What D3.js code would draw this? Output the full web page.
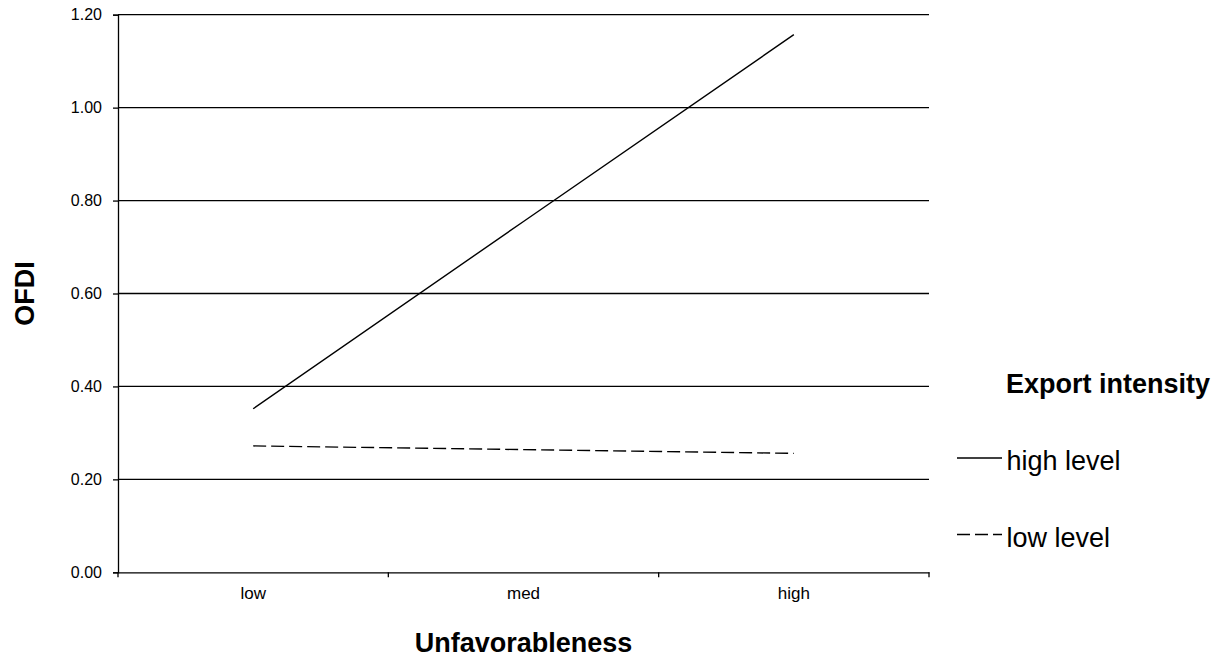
<!DOCTYPE html>
<html><head><meta charset="utf-8">
<script src="https://cdn.jsdelivr.net/npm/d3@7"></script>
<style>body{margin:0;background:#fff;}svg{display:block;font-family:"Liberation Sans",Arial,sans-serif;}</style>
</head><body>
<svg id="chart" width="1224" height="659"></svg>
<script>
const categories = ["low", "med", "high"];
const highLevel = [0.352, 0.755, 1.157];
const lowLevel = [0.272, 0.264, 0.256];
const yTicks = [0, 0.2, 0.4, 0.6, 0.8, 1.0, 1.2];
const seriesNames = ["high level", "low level"];

(function () {
const svg = d3.select("#chart");
const pL = 118, pR = 929, pT = 14.7, pB = 572.3;
const FONT = "Liberation Sans, Arial, sans-serif";

const x = d3.scaleBand().domain(categories).range([pL, pR]).padding(0);
const y = d3.scaleLinear().domain([0, 1.2]).range([pB, pT]);

// gridlines
svg.append("g").selectAll("line").data(yTicks.filter(d => d > 0)).join("line")
  .attr("x1", pL).attr("x2", pR)
  .attr("y1", d => y(d)).attr("y2", d => y(d))
  .attr("stroke", "#000").attr("stroke-width", 1.3);

// y axis
const yAxis = svg.append("g").attr("transform", `translate(${pL},0)`)
  .call(d3.axisLeft(y).tickValues(yTicks).tickFormat(d3.format(".2f")).tickSize(5).tickPadding(11));
yAxis.select(".domain").attr("stroke", "#000").attr("stroke-width", 1.3);
yAxis.selectAll(".tick line").attr("stroke", "#000").attr("stroke-width", 1.3);
yAxis.selectAll("text").attr("font-size", 16).attr("fill", "#000").attr("font-family", FONT);

// x axis
const xAxis = svg.append("g").attr("transform", `translate(0,${pB})`)
  .call(d3.axisBottom(x).tickSize(0).tickPadding(14.5));
xAxis.select(".domain").attr("stroke", "#000").attr("stroke-width", 1.3);
xAxis.selectAll("text").attr("font-size", 17).attr("fill", "#000").attr("font-family", FONT);
// boundary ticks
const bounds = categories.map(c => x(c)).concat([pR]);
svg.append("g").selectAll("line").data(bounds).join("line")
  .attr("x1", d => d).attr("x2", d => d)
  .attr("y1", pB).attr("y2", pB + 5)
  .attr("stroke", "#000").attr("stroke-width", 1.3);

const cx = c => x(c) + x.bandwidth() / 2;
const line = d3.line().x((d, i) => cx(categories[i])).y(d => y(d));

svg.append("path").datum(highLevel).attr("d", line)
  .attr("fill", "none").attr("stroke", "#000").attr("stroke-width", 1.4);
svg.append("path").datum(lowLevel).attr("d", line)
  .attr("fill", "none").attr("stroke", "#000").attr("stroke-width", 1.4)
  .attr("stroke-dasharray", "13,5");

// axis titles
svg.append("text").attr("x", (pL + pR) / 2).attr("y", 652)
  .attr("text-anchor", "middle").attr("font-size", 27).attr("font-weight", "bold")
  .text("Unfavorableness");
svg.append("text").attr("transform", `translate(34,${(pT + pB) / 2}) rotate(-90)`)
  .attr("text-anchor", "middle").attr("font-size", 27).attr("font-weight", "bold")
  .text("OFDI");

// legend
svg.append("text").attr("x", 1006).attr("y", 393).attr("font-size", 27).attr("font-weight", "bold")
  .text("Export intensity");
const leg = svg.append("g").selectAll("g").data(seriesNames).join("g")
  .attr("transform", (d, i) => `translate(957,${458 + i * 76.5})`);
leg.append("line").attr("x1", 0).attr("x2", 45).attr("y1", 0).attr("y2", 0)
  .attr("stroke", "#000").attr("stroke-width", 1.4)
  .attr("stroke-dasharray", (d, i) => i === 1 ? "13,5" : null);
leg.append("text").attr("x", 49.5).attr("y", 12).attr("font-size", 27).text(d => d);
})();
</script>
</body></html>
